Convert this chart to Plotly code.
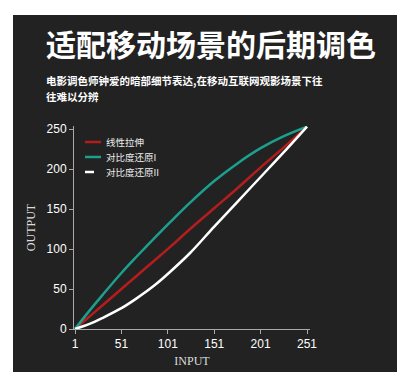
import plotly.graph_objects as go

# ---- data ----
input_x = [1, 16, 31, 51, 67, 86, 103, 125, 151, 176, 201, 226, 251]
linear_y = [0, 15, 30, 50, 66, 85, 102, 125, 151, 176, 202, 227, 253]
contrast1_y = [0, 22, 43, 70, 90, 113, 133, 158, 185, 207, 226, 241, 253]
contrast2_y = [0, 6, 14, 26, 38, 54, 71, 95, 128, 159, 190, 221, 253]
x_ticks = [1, 51, 101, 151, 201, 251]
y_ticks = [0, 50, 100, 150, 200, 250]
series_names = ["线性拉伸", "对比度还原I", "对比度还原II"]

W, H = 405, 383
L, R, T, B = 74, 310, 126, 329  # plot area in pixels
PW, PH = R - L, B - T

def px(x):
    return (x - L) / PW

def py(y):
    return (B - y) / PH

BG = "#222222"
RED = "#b51d1d"
TEAL = "#1d9f8e"
WHITE = "#ffffff"
CJK = "Noto Sans CJK SC"

fig = go.Figure()
fig.add_trace(go.Scatter(x=input_x, y=linear_y, mode="lines", name=series_names[0],
                         line=dict(color=RED, width=2.5, shape="spline"), showlegend=False))
fig.add_trace(go.Scatter(x=input_x, y=contrast1_y, mode="lines", name=series_names[1],
                         line=dict(color=TEAL, width=2.5, shape="spline"), showlegend=False))
fig.add_trace(go.Scatter(x=input_x, y=contrast2_y, mode="lines", name=series_names[2],
                         line=dict(color=WHITE, width=2.5, shape="spline"), showlegend=False))

shapes = [
    dict(type="rect", xref="paper", yref="paper", x0=px(13), x1=px(397), y0=py(372), y1=py(15),
         fillcolor=BG, line=dict(width=0), layer="below"),
]
# manual legend
leg = [(142, RED, "solid"), (157, TEAL, "solid"), (172, WHITE, "dash")]
for (yy, col, dash) in leg:
    shapes.append(dict(type="line", xref="paper", yref="paper", x0=px(85), x1=px(101),
                       y0=py(yy), y1=py(yy), line=dict(color=col, width=2.5, dash=dash)))

annotations = []
for (yy, col, dash), name in zip(leg, series_names):
    annotations.append(dict(text=name, xref="paper", yref="paper", x=px(104), y=py(yy),
                            xanchor="left", yanchor="middle", showarrow=False,
                            font=dict(family=CJK, size=9.5, color="#eeeeee")))
annotations.append(dict(text="<b>适配移动场景的后期调色</b>", xref="paper", yref="paper",
                        x=px(44), y=py(43), xanchor="left", yanchor="middle", showarrow=False,
                        font=dict(family=CJK, size=30, color="white")))
annotations.append(dict(text="<b>电影调色师钟爱的暗部细节表达,在移动互联网观影场景下往</b>",
                        xref="paper", yref="paper", x=px(44), y=py(80), xanchor="left",
                        yanchor="middle", showarrow=False,
                        font=dict(family=CJK, size=10.5, color="white")))
annotations.append(dict(text="<b>往难以分辨</b>", xref="paper", yref="paper", x=px(44), y=py(96),
                        xanchor="left", yanchor="middle", showarrow=False,
                        font=dict(family=CJK, size=10.5, color="white")))

axis_common = dict(showgrid=False, zeroline=False, showline=True, linecolor="#aaaaaa",
                   linewidth=1, ticks="outside", ticklen=4, tickcolor="#aaaaaa",
                   tickfont=dict(family="Liberation Sans", size=12, color="white"))

fig.update_layout(
    width=W, height=H,
    margin=dict(l=L, r=W - R, t=T, b=H - B, pad=0),
    paper_bgcolor="white", plot_bgcolor="rgba(0,0,0,0)",
    shapes=shapes, annotations=annotations,
    xaxis=dict(range=[-0.08, 254.2], tickvals=x_ticks, ticktext=[str(v) for v in x_ticks],
               title=dict(text="INPUT", font=dict(family="Liberation Serif", size=12, color="#dddddd"),
                          standoff=6),
               **axis_common),
    yaxis=dict(range=[0, 253.75], tickvals=y_ticks, ticktext=[str(v) for v in y_ticks],
               title=dict(text="OUTPUT", font=dict(family="Liberation Serif", size=12, color="#dddddd"),
                          standoff=8),
               **axis_common),
)

fig.write_html("out.html", config={"displayModeBar": False},
               post_script="document.body.style.margin='0';document.body.style.overflow='hidden';")
